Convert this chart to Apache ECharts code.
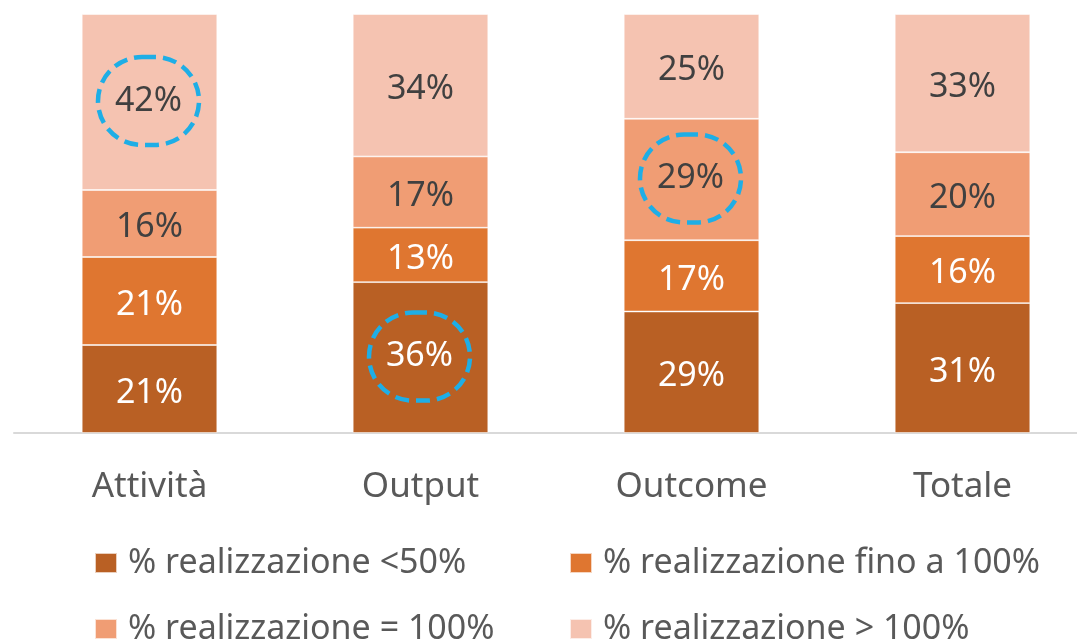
<!DOCTYPE html>
<html>
<head>
<meta charset="utf-8">
<script src="https://cdn.jsdelivr.net/npm/echarts@6/dist/echarts.min.js"></script>
<style>
  html, body { margin: 0; padding: 0; background: #fff; }
  #chart { width: 1077px; height: 642px; }
</style>
</head>
<body>
<div id="chart"></div>
<script>
// categorie e serie (valori in %)
const categories = ['Attività', 'Output', 'Outcome', 'Totale']
const seriesNames = [
  '% realizzazione <50%',
  '% realizzazione fino a 100%',
  '% realizzazione = 100%',
  '% realizzazione > 100%'
]
const below50 = [21, 36, 29, 31]
const upTo100 = [21, 13, 17, 16]
const equal100 = [16, 17, 29, 20]
const over100 = [42, 34, 25, 33]
// valori evidenziati con il cerchio tratteggiato: [serie, categoria]
const highlighted = [[3, 0], [0, 1], [2, 2]]

const colors = ['#B96024', '#DF7630', '#F09D74', '#F5C3B1']
const labelColors = ['#ffffff', '#ffffff', '#404040', '#404040']
const FONT = 'Noto Sans'

const chart = echarts.init(document.getElementById('chart'))

const allValues = [below50, upTo100, equal100, over100]

const seriesArr = allValues.map((vals, si) => {
  return {
    name: seriesNames[si],
    type: 'bar',
    stack: 'tot',
    barWidth: '50%',
    itemStyle: { color: colors[si], borderColor: 'rgba(255,255,255,0.7)', borderWidth: 0.8 },
    label: {
      show: true,
      position: 'inside',
      formatter: '{c}%',
      color: labelColors[si],
      fontFamily: FONT,
      fontSize: 34,
      offset: [0, 4]
    },
    data: vals.map((v, ci) => {
      const isHl = highlighted.some(h => h[0] === si && h[1] === ci)
      if (!isHl) return v
      // cerchio tratteggiato attorno all'etichetta
      return {
        value: v,
        label: {
          width: 101,
          height: 82,
          lineHeight: 82,
          align: 'center',
          verticalAlign: 'middle',
          borderColor: '#1EAEE6',
          borderWidth: 4.5,
          borderType: [14, 7],
          borderRadius: 50,
          padding: [6, 0, 0, 0],
          offset: [-1, -1]
        }
      }
    })
  }
})

// una legenda per voce, disposte su due righe e due colonne
const legendPos = [[89, 541], [564, 541], [89, 607], [564, 607]]
const legends = seriesNames.map((n, i) => {
  return {
    data: [n],
    left: legendPos[i][0],
    top: legendPos[i][1],
    icon: 'rect',
    itemWidth: 22,
    itemHeight: 20,
    itemGap: 0,
    selectedMode: false,
    textStyle: { color: '#595959', fontFamily: FONT, fontSize: 34, padding: [0, 0, 0, 6] }
  }
})

const option = {
  animation: false,
  grid: { left: 14, right: -21, top: 14, bottom: 209, outerBoundsMode: 'none', containLabel: false },
  legend: legends,
  xAxis: {
    type: 'category',
    data: categories,
    axisTick: { show: false },
    axisLine: { lineStyle: { color: '#D9D9D9', width: 2 } },
    axisLabel: { color: '#595959', fontFamily: FONT, fontSize: 35, margin: 37 }
  },
  yAxis: {
    type: 'value',
    min: 0,
    max: 100,
    show: false,
    splitLine: { show: false }
  },
  series: seriesArr
}

chart.setOption(option)
</script>
</body>
</html>
